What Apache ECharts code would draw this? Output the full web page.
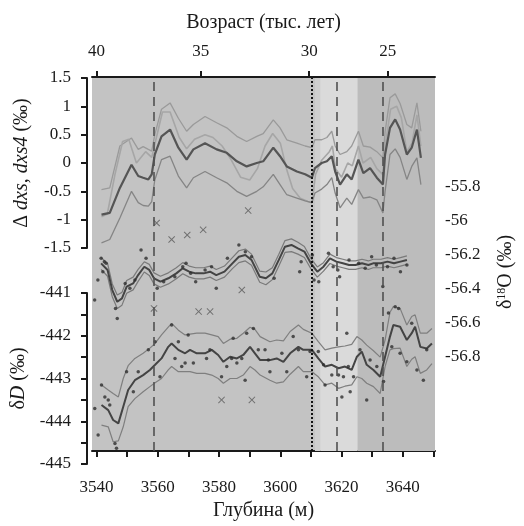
<!DOCTYPE html>
<html>
<head>
<meta charset="utf-8">
<script src="https://cdn.jsdelivr.net/npm/echarts@6/dist/echarts.min.js"></script>
<style>
  html, body { margin: 0; padding: 0; background: #fff; }
  #main { width: 524px; height: 526px; }
</style>
</head>
<body>
<div id="main"></div>
<script>
// глубина (м) -> ось X
const depthTicks = [3540, 3550, 3560, 3570, 3580, 3590, 3600, 3610, 3620, 3630, 3640, 3650];
const depthLabels = [3540, 3560, 3580, 3600, 3620, 3640];
// возраст (тыс. лет) на верхней оси и соответствующая глубина
const ageLabels = [40, 35, 30, 25];
const ageDepths = [3540, 3574, 3609.4, 3635.1];

// вертикальные линии и зоны
const dashedDepths = [3558.5, 3618.5, 3633.6];
const dottedDepth = 3610.3;
const stripDepths = [3611.3, 3613.0];
const bandDepths = [3613.0, 3625.2];
const rightZoneDepths = [3625.2, 3650.5];

// Δdxs: среднее и границы
const dxsDepth = [3541.6, 3544.3, 3547.6, 3551.4, 3553.6, 3555.2, 3556.9, 3558.0, 3559.0, 3561.2,
  3564.0, 3566.7, 3569.4, 3571.6, 3575.4, 3579.2, 3582.5, 3585.8, 3589.0, 3592.3,
  3594.4, 3597.7, 3599.9, 3602.1, 3605.4, 3608.1, 3610.3, 3611.3, 3613.5, 3615.2,
  3616.8, 3617.9, 3619.5, 3621.7, 3623.3, 3625.5, 3627.1, 3629.3, 3631.5, 3633.5,
  3634.2, 3635.8, 3637.5, 3639.1, 3641.3, 3642.9, 3644.6, 3645.9];
const dxsMean = [-0.91, -0.88, -0.44, -0.03, -0.23, -0.26, -0.29, -0.20, 0.15, 0.47,
  0.59, 0.27, 0.06, 0.24, 0.35, 0.24, 0.18, 0.03, -0.06, 0.00,
  0.03, 0.27, 0.12, -0.06, -0.15, -0.20, -0.26, -0.09, 0.00, 0.03,
  0.12, -0.15, -0.38, -0.20, -0.29, 0.06, -0.18, -0.09, -0.26, -0.38,
  0.15, 0.62, 0.77, 0.59, 0.15, 0.27, 0.59, 0.09];
const dxsUpper = [-0.47, -0.44, 0.30, 0.44, 0.24, 0.29, 0.24, 0.21, 0.50, 0.95,
  1.06, 0.79, 0.56, 0.68, 0.82, 0.71, 0.62, 0.47, 0.38, 0.47,
  0.52, 0.76, 0.62, 0.41, 0.35, 0.30, 0.27, 0.41, 0.41, 0.45,
  0.56, 0.30, 0.15, 0.20, 0.30, 0.56, 0.30, 0.28, 0.20, 0.09,
  0.55, 1.15, 1.22, 1.05, 0.68, 0.62, 1.06, 0.56];
const dxsLower = [-1.41, -1.35, -0.97, -0.50, -0.70, -0.75, -0.76, -0.68, -0.30, 0.06,
  0.12, -0.23, -0.44, -0.26, -0.15, -0.26, -0.35, -0.50, -0.59, -0.50,
  -0.42, -0.20, -0.38, -0.56, -0.62, -0.67, -0.70, -0.53, -0.46, -0.38,
  -0.26, -0.53, -0.79, -0.62, -0.73, -0.47, -0.62, -0.60, -0.65, -0.88,
  -0.50, 0.15, 0.25, 0.10, -0.29, -0.06, 0.09, -0.38];

// dxs4
const dxs4Depth = [3541.6, 3543.5, 3546.0, 3548.5, 3550.5, 3553.0, 3556.0, 3558.0, 3561.5, 3564.0,
  3567.0, 3569.4, 3572.0, 3575.4, 3578.0, 3581.0, 3584.0, 3587.0, 3590.0, 3592.5,
  3595.0, 3597.5, 3600.0, 3602.0, 3604.0, 3606.5, 3609.0, 3610.3, 3611.5, 3613.5,
  3616.0, 3617.0, 3618.0, 3620.0, 3622.0, 3623.5, 3625.5, 3627.0, 3629.5, 3631.5,
  3633.4, 3634.5, 3636.0, 3638.0, 3639.5, 3641.3, 3643.0, 3644.6, 3645.9];
const dxs4Values = [-0.95, -0.90, -0.20, 0.38, 0.42, 0.00, 0.20, 0.10, 0.90, 0.90,
  0.45, 0.25, 0.42, 0.50, 0.45, 0.30, 0.05, -0.25, -0.30, -0.10,
  0.30, 0.52, 0.35, -0.10, -0.45, -0.62, -0.68, -0.70, -0.20, 0.05,
  0.20, 0.30, -0.10, -0.25, 0.00, -0.05, 0.30, 0.00, 0.10, -0.10,
  -0.20, 0.40, 0.95, 1.00, 0.80, 0.20, 0.35, 0.85, 0.30];

// δ18O: среднее, границы, измерения
const d18oDepth = [3541.6, 3543.8, 3545.4, 3547.1, 3548.7, 3550.3, 3552.5, 3554.2, 3556.3, 3558.0,
  3559.6, 3561.8, 3564.5, 3567.2, 3569.4, 3571.6, 3573.8, 3576.5, 3578.7, 3580.8,
  3583.6, 3586.3, 3588.5, 3590.7, 3592.8, 3595.6, 3597.7, 3599.9, 3602.1, 3604.2,
  3606.4, 3608.6, 3610.8, 3613.0, 3615.2, 3617.3, 3619.5, 3621.7, 3623.9, 3626.0,
  3628.2, 3630.4, 3632.6, 3634.2, 3636.9, 3639.1, 3641.3, 3643.5, 3645.7];
const d18oMean = [-56.249, -56.288, -56.406, -56.475, -56.455, -56.386, -56.367, -56.318, -56.269, -56.288,
  -56.337, -56.357, -56.337, -56.308, -56.278, -56.298, -56.308, -56.308, -56.298, -56.318,
  -56.298, -56.249, -56.210, -56.200, -56.229, -56.328, -56.337, -56.308, -56.229, -56.151,
  -56.141, -56.161, -56.180, -56.249, -56.298, -56.269, -56.220, -56.239, -56.249, -56.259,
  -56.259, -56.249, -56.259, -56.249, -56.249, -56.239, -56.249, -56.239, -56.229];
const d18oUpper = [-56.215, -56.250, -56.370, -56.435, -56.420, -56.350, -56.330, -56.285, -56.240, -56.255,
  -56.305, -56.325, -56.305, -56.275, -56.245, -56.265, -56.275, -56.275, -56.265, -56.285,
  -56.265, -56.215, -56.175, -56.165, -56.195, -56.295, -56.300, -56.275, -56.195, -56.115,
  -56.105, -56.125, -56.150, -56.220, -56.270, -56.245, -56.195, -56.215, -56.225, -56.235,
  -56.235, -56.225, -56.235, -56.225, -56.225, -56.215, -56.225, -56.215, -56.205];
const d18oLower = [-56.285, -56.325, -56.445, -56.515, -56.495, -56.425, -56.405, -56.355, -56.300, -56.320,
  -56.370, -56.390, -56.370, -56.340, -56.310, -56.330, -56.340, -56.340, -56.330, -56.350,
  -56.330, -56.280, -56.245, -56.235, -56.260, -56.360, -56.375, -56.345, -56.265, -56.185,
  -56.180, -56.195, -56.215, -56.280, -56.330, -56.295, -56.250, -56.265, -56.275, -56.285,
  -56.285, -56.275, -56.285, -56.275, -56.275, -56.265, -56.275, -56.265, -56.255];
const d18oPointDepth = [3539.4, 3540.5, 3541.6, 3542.7, 3542.2, 3543.3, 3546.5, 3547.1, 3549.8, 3551.4,
  3553.1, 3555.2, 3556.9, 3560.7, 3562.9, 3566.7, 3569.4, 3570.5, 3572.1, 3573.8,
  3577.0, 3579.2, 3580.8, 3584.6, 3588.5, 3590.7, 3592.8, 3600.5, 3609.2, 3609.7,
  3613.5, 3614.1, 3615.7, 3619.0, 3620.6, 3622.2, 3622.8, 3626.0, 3629.3, 3631.5,
  3633.7, 3635.3, 3637.5, 3639.1, 3641.3, 3643.5, 3645.7];
const d18oPoints = [-56.465, -56.347, -56.219, -56.239, -56.298, -56.249, -56.514, -56.573, -56.367, -56.396,
  -56.347, -56.171, -56.219, -56.396, -56.357, -56.328, -56.269, -56.249, -56.308, -56.357,
  -56.288, -56.269, -56.396, -56.219, -56.141, -56.181, -56.210, -56.337, -56.298, -56.239,
  -56.200, -56.347, -56.357, -56.190, -56.269, -56.288, -56.328, -56.229, -56.249, -56.278,
  -56.210, -56.259, -56.386, -56.269, -56.219, -56.298, -56.259];

// δD: среднее, границы, измерения
const dDDepth = [3541.6, 3543.8, 3545.4, 3547.1, 3548.7, 3550.3, 3552.5, 3555.2, 3557.4, 3559.1,
  3561.2, 3563.4, 3564.5, 3566.7, 3568.9, 3570.5, 3572.7, 3575.4, 3577.6, 3579.7,
  3581.4, 3583.6, 3585.8, 3587.9, 3590.1, 3591.7, 3593.4, 3596.6, 3598.8, 3601.0,
  3603.2, 3605.9, 3607.5, 3610.3, 3612.4, 3614.6, 3616.8, 3619.0, 3621.1, 3623.3,
  3625.0, 3626.6, 3628.2, 3630.4, 3632.6, 3634.2, 3635.8, 3636.9, 3639.1, 3641.3,
  3642.9, 3644.0, 3645.7, 3647.8, 3649.5];
const dDMean = [-443.62, -443.74, -443.97, -444.05, -443.66, -443.27, -443.04, -442.92, -442.80, -442.68,
  -442.53, -442.26, -442.18, -442.33, -442.41, -442.33, -442.41, -442.41, -442.33, -442.45,
  -442.61, -442.49, -442.53, -442.45, -442.26, -442.41, -442.57, -442.57, -442.53, -442.61,
  -442.41, -442.26, -442.33, -442.33, -442.53, -442.72, -442.68, -442.76, -442.72, -442.80,
  -442.49, -442.37, -442.68, -442.80, -442.96, -442.49, -442.02, -441.75, -441.79, -442.10,
  -441.94, -441.79, -442.26, -442.30, -442.18];
const dDUpper = [-443.15, -443.27, -443.35, -443.43, -443.00, -442.70, -442.53, -442.41, -442.29, -442.18,
  -441.98, -441.80, -441.71, -441.87, -441.98, -441.96, -441.94, -441.94, -441.98, -442.02,
  -442.18, -442.08, -442.06, -441.94, -441.80, -441.85, -442.02, -442.14, -442.10, -442.12,
  -441.90, -441.75, -441.85, -441.94, -442.14, -442.33, -442.29, -442.26, -442.24, -442.20,
  -442.02, -442.10, -442.22, -442.35, -442.50, -442.10, -441.45, -441.32, -441.36, -441.75,
  -441.55, -441.51, -441.94, -441.94, -441.83];
const dDLower = [-444.09, -444.13, -444.48, -444.46, -444.13, -443.66, -443.47, -443.31, -443.19, -443.10,
  -443.00, -442.80, -442.72, -442.84, -442.84, -442.84, -442.88, -442.88, -442.92, -443.00,
  -443.11, -443.00, -443.00, -442.92, -442.72, -442.80, -442.92, -443.04, -443.11, -443.08,
  -442.90, -442.72, -442.84, -442.84, -442.96, -443.15, -443.11, -443.23, -443.18, -443.15,
  -442.96, -443.00, -443.11, -443.19, -443.35, -442.72, -442.33, -442.30, -442.29, -442.72,
  -442.55, -442.49, -442.88, -442.80, -442.65];
const dDPointDepth = [3539.4, 3540.5, 3541.6, 3542.7, 3543.8, 3544.3, 3546.0, 3546.5, 3549.8, 3552.0,
  3553.6, 3556.9, 3559.1, 3560.7, 3564.5, 3565.6, 3566.7, 3567.8, 3568.9, 3569.9,
  3571.6, 3575.9, 3577.0, 3580.8, 3582.5, 3584.1, 3584.6, 3585.8, 3587.4, 3588.5,
  3589.0, 3591.2, 3592.8, 3595.0, 3596.1, 3596.6, 3600.5, 3602.1, 3604.2, 3605.9,
  3608.6, 3609.7, 3612.4, 3614.1, 3614.6, 3616.8, 3619.0, 3620.1, 3620.6, 3621.7,
  3622.2, 3622.8, 3623.9, 3626.0, 3628.2, 3629.3, 3631.5, 3633.7, 3635.3, 3636.4,
  3637.5, 3638.6, 3639.1, 3641.3, 3642.9, 3644.6, 3646.7, 3647.8];
const dDPoints = [-443.70, -444.32, -443.15, -443.43, -443.50, -443.62, -444.52, -444.63, -442.84, -443.31,
  -442.84, -442.33, -442.14, -442.96, -441.75, -442.53, -442.14, -442.72, -442.64, -441.98,
  -442.64, -442.53, -442.33, -442.96, -442.72, -442.53, -442.06, -442.64, -442.53, -443.04,
  -441.94, -441.83, -442.33, -442.33, -442.57, -442.84, -442.41, -442.84, -442.02, -442.33,
  -442.96, -442.37, -442.37, -442.68, -443.15, -442.92, -442.92, -443.43, -442.96, -441.94,
  -442.72, -443.31, -442.96, -442.33, -443.50, -442.57, -442.72, -443.07, -441.47, -442.26,
  -441.32, -441.36, -442.41, -442.61, -441.71, -442.80, -443.04, -442.33];

// отметки «×»
const gapDxsDepth = [3559.6, 3564.5, 3569.6, 3574.8, 3589.5];
const gapDxsValues = [-1.06, -1.35, -1.27, -1.18, -0.84];
const gapD18oDepth = [3559.6, 3574.8, 3578.7, 3589.5];
const gapD18oValues = [-56.514, -56.533, -56.533, -56.406];
const gapDDDepth = [3580.8, 3590.7];
const gapDDValues = [-443.5, -443.5];

const zip = (xs, ys) => xs.map((x, i) => [x, ys[i]]);
// обычный дефис и без разделителей тысяч
const plain = v => String(parseFloat(Number(v).toFixed(2)));

const FONT = 'Liberation Serif';
const INK = '#1a1a1a';
const crossPath = 'path://M0,1L1,0L5,4L9,0L10,1L6,5L10,9L9,10L5,6L1,10L0,9L4,5Z';

const chart = echarts.init(document.getElementById('main'), null, { renderer: 'canvas' });

const xRange = { min: 3538.5, max: 3650.5 };
const gridL = 92, gridR = 89;

const axisLine = { show: true, lineStyle: { color: INK, width: 2 } };
const axisTick = { show: true, length: 6, lineStyle: { color: INK, width: 2 } };
const labelStyle = { fontFamily: FONT, fontSize: 17, color: INK, formatter: plain };
const nameStyle = { fontFamily: FONT, fontSize: 20, color: INK };
const italic = { fontFamily: FONT, fontSize: 20, fontStyle: 'italic', color: INK };

function curve(name, xi, yi, xs, ys, color, width, z) {
  return {
    name, type: 'line', xAxisIndex: xi, yAxisIndex: yi,
    data: zip(xs, ys), showSymbol: false, symbol: 'none', clip: false,
    lineStyle: { color, width }, z: z || 3
  };
}
function dots(xi, yi, xs, ys) {
  return {
    type: 'scatter', xAxisIndex: xi, yAxisIndex: yi, data: zip(xs, ys),
    symbolSize: 3.5, itemStyle: { color: '#2e2e2e' }, z: 4
  };
}
function crosses(xi, yi, xs, ys) {
  return {
    type: 'scatter', xAxisIndex: xi, yAxisIndex: yi, data: zip(xs, ys),
    symbol: crossPath, symbolSize: 7, itemStyle: { color: '#5a5a5a' }, z: 4
  };
}

const option = {
  animation: false,
  backgroundColor: '#ffffff',
  grid: [
    { left: gridL, right: gridR, top: 78, bottom: 64, show: true, backgroundColor: '#c3c3c3', borderWidth: 0 },
    { left: gridL, right: gridR, top: 78, height: 170 },
    { left: gridL, right: gridR, top: 187, height: 170 },
    { left: gridL, right: gridR, top: 293, height: 171 }
  ],
  xAxis: [
    {
      gridIndex: 0, type: 'value', position: 'bottom', ...xRange, offset: 3,
      name: 'Глубина (м)', nameLocation: 'middle', nameGap: 44,
      nameTextStyle: nameStyle,
      axisLine, axisTick: { ...axisTick, customValues: depthTicks },
      axisLabel: { ...labelStyle, margin: 25, customValues: depthLabels },
      splitLine: { show: false }
    },
    {
      gridIndex: 0, type: 'value', position: 'top', ...xRange, offset: 1,
      name: 'Возраст (тыс. лет)', nameLocation: 'middle', nameGap: 44,
      nameTextStyle: nameStyle,
      axisLine, axisTick: { ...axisTick, customValues: ageDepths },
      axisLabel: {
        ...labelStyle, margin: 17, customValues: ageDepths,
        formatter: v => {
          const i = ageDepths.indexOf(v);
          return i >= 0 ? String(ageLabels[i]) : '';
        }
      },
      splitLine: { show: false }
    },
    { gridIndex: 1, type: 'value', ...xRange, show: false },
    { gridIndex: 2, type: 'value', ...xRange, show: false },
    { gridIndex: 3, type: 'value', ...xRange, show: false }
  ],
  yAxis: [
    { gridIndex: 0, type: 'value', min: 0, max: 1, show: false },
    {
      gridIndex: 1, type: 'value', position: 'left', min: -1.5, max: 1.5, interval: 0.5, offset: 5,
      name: 'Δ {i|dxs}, {i|dxs4} (‰)', nameLocation: 'middle', nameRotate: 90, nameGap: 55,
      nameTextStyle: { ...nameStyle, rich: { i: italic } },
      axisLine, axisTick, axisLabel: { ...labelStyle, margin: 16, align: 'right' },
      splitLine: { show: false }
    },
    {
      gridIndex: 2, type: 'value', position: 'right', min: -56.8, max: -55.8, interval: 0.2, offset: 2,
      name: 'δ{sup|18}O (‰)', nameLocation: 'middle', nameRotate: 90, nameGap: 73,
      nameTextStyle: {
        ...nameStyle,
        rich: { sup: { fontFamily: FONT, fontSize: 12, color: INK, padding: [0, 0, 8, 0] } }
      },
      axisLine, axisTick, axisLabel: { ...labelStyle, margin: 22, align: 'left' },
      minorTick: { show: true, splitNumber: 2, length: 6, lineStyle: { color: INK, width: 2 } },
      splitLine: { show: false }, minorSplitLine: { show: false }
    },
    {
      gridIndex: 3, type: 'value', position: 'left', min: -445, max: -441, interval: 1, offset: 5,
      name: 'δ{i|D} (‰)', nameLocation: 'middle', nameRotate: 90, nameGap: 58,
      nameTextStyle: { ...nameStyle, rich: { i: italic } },
      axisLine, axisTick, axisLabel: { ...labelStyle, margin: 16, align: 'right' },
      minorTick: { show: true, splitNumber: 2, length: 6, lineStyle: { color: INK, width: 2 } },
      splitLine: { show: false }, minorSplitLine: { show: false }
    }
  ],
  series: [
    {
      type: 'line', xAxisIndex: 0, yAxisIndex: 0, data: [], z: 1,
      markArea: {
        silent: true,
        data: [
          [{ xAxis: rightZoneDepths[0], itemStyle: { color: '#bcbcbc' } }, { xAxis: rightZoneDepths[1] }],
          [{ xAxis: stripDepths[0], itemStyle: { color: '#cecece' } }, { xAxis: stripDepths[1] }],
          [{ xAxis: bandDepths[0], itemStyle: { color: '#dadada' } }, { xAxis: bandDepths[1] }]
        ]
      }
    },
    {
      type: 'line', xAxisIndex: 0, yAxisIndex: 0, data: [], z: 6,
      markLine: {
        silent: true, symbol: 'none', label: { show: false },
        data: [
          ...dashedDepths.map(d => ({ xAxis: d, lineStyle: { color: '#505050', width: 1.6, type: [9, 6] } })),
          { xAxis: dottedDepth, lineStyle: { color: '#111111', width: 2, type: [2, 2] } }
        ]
      }
    },
    curve('dxs upper', 2, 1, dxsDepth, dxsUpper, '#9a9a9a', 1.3),
    curve('dxs4', 2, 1, dxs4Depth, dxs4Values, '#a6a6a6', 1.6),
    curve('dxs lower', 2, 1, dxsDepth, dxsLower, '#858585', 1.3),
    curve('dxs mean', 2, 1, dxsDepth, dxsMean, '#555555', 2.2, 4),
    crosses(2, 1, gapDxsDepth, gapDxsValues),

    curve('d18o upper', 3, 2, d18oDepth, d18oUpper, '#7a7a7a', 1.2),
    curve('d18o lower', 3, 2, d18oDepth, d18oLower, '#7a7a7a', 1.2),
    curve('d18o mean', 3, 2, d18oDepth, d18oMean, '#444444', 2, 4),
    dots(3, 2, d18oPointDepth, d18oPoints),
    crosses(3, 2, gapD18oDepth, gapD18oValues),

    curve('dD upper', 4, 3, dDDepth, dDUpper, '#7f7f7f', 1.2),
    curve('dD lower', 4, 3, dDDepth, dDLower, '#7f7f7f', 1.2),
    curve('dD mean', 4, 3, dDDepth, dDMean, '#444444', 2, 4),
    dots(4, 3, dDPointDepth, dDPoints),
    crosses(4, 3, gapDDDepth, gapDDValues)
  ]
};

chart.setOption(option);
</script>
</body>
</html>
